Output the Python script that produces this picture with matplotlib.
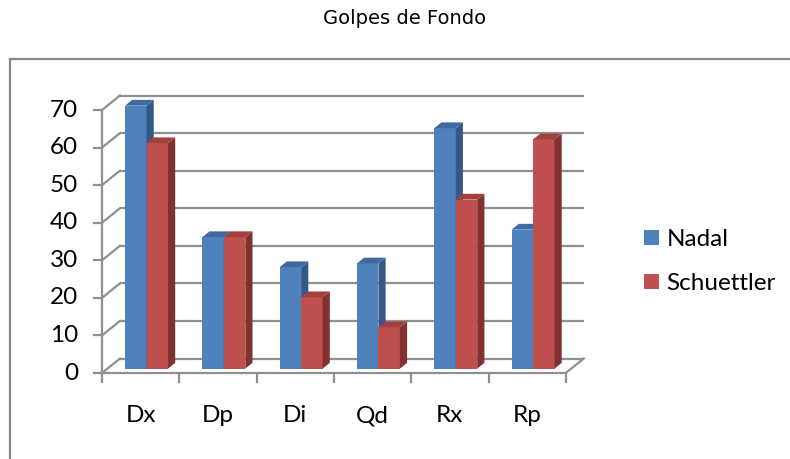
import matplotlib
matplotlib.use("Agg")
import matplotlib.pyplot as plt
from matplotlib.patches import Polygon, Patch
from matplotlib.lines import Line2D

# ---- data ----
categories = ["Dx", "Dp", "Di", "Qd", "Rx", "Rp"]
nadal = [70, 35, 27, 28, 64, 37]
schuettler = [60, 35, 19, 11, 45, 61]
series_names = ["Nadal", "Schuettler"]
y_ticks = [0, 10, 20, 30, 40, 50, 60, 70]
title = "Golpes de Fondo"

# ---- styling / layout ----
W, H = 790, 459
front_colors = ["#4F81BD", "#C0504D"]
side_colors = ["#345888", "#7F322F"]
top_colors = ["#3F6AA0", "#A1403D"]
grid_color = "#909090"
FONT = ["Lato", "DejaVu Sans"]

PX0 = 102.0      # pixel x of front plane at x=-0.5
PXC = 77.3       # pixels per category
PY0 = 373.0      # pixel y (from top) of value 0 on front plane
PYU = 3.757      # pixels per value unit
DXW = 18.0 / PXC   # wall depth offset in category units
DYW = 14.5 / PYU   # wall depth offset in value units
Z0, Z1 = 0.3, 0.7  # bar depth range (fraction of wall depth)
BAR_OFF = 0.228
BAR_W = 0.278

fig = plt.figure(figsize=(W / 100, H / 100), dpi=100)
ax = fig.add_axes([0, 0, 1, 1])
ax.set_xlim((0 - PX0) / PXC - 0.5, (W - PX0) / PXC - 0.5)
ax.set_ylim((PY0 - H) / PYU, PY0 / PYU)
ax.axis("off")

n = len(categories)
xl, xr = -0.5, n - 0.5
lw = 1.6

# back wall gridlines + left wall diagonals
for v in y_ticks:
    ax.plot([xl + DXW, xr + DXW], [v + DYW, v + DYW], color=grid_color, lw=lw, zorder=1,
            solid_capstyle="butt")
    ax.plot([xl, xl + DXW], [v, v + DYW], color=grid_color, lw=lw, zorder=1)
    ax.plot([xl - 8 / PXC, xl], [v, v], color=grid_color, lw=lw, zorder=1)
# floor right edge
ax.plot([xr, xr + DXW], [0, DYW], color=grid_color, lw=lw, zorder=1)
# vertical axis line
ax.plot([xl, xl], [0, y_ticks[-1]], color=grid_color, lw=lw, zorder=1)
# bottom axis line
ax.plot([xl, xr], [0, 0], color=grid_color, lw=lw, zorder=1)
for k in range(n + 1):
    ax.plot([xl + k, xl + k], [0, -9 / PYU], color=grid_color, lw=lw, zorder=1)

# bars
data = [nadal, schuettler]
dz = Z1 - Z0
z = 2
for i in range(n):
    for s in range(2):
        v = data[s][i]
        left = i - 0.5 + Z0 * DXW + BAR_OFF + s * BAR_W
        bottom = Z0 * DYW
        right = left + BAR_W
        ax.bar(left, v, width=BAR_W, bottom=bottom, align="edge",
               color=front_colors[s], lw=0, zorder=z)
        side = Polygon([(right, bottom), (right + dz * DXW, bottom + dz * DYW),
                        (right + dz * DXW, bottom + v + dz * DYW), (right, bottom + v)],
                       closed=True, facecolor=side_colors[s], lw=0, zorder=z)
        ax.add_patch(side)
        top = Polygon([(left, bottom + v), (right, bottom + v),
                       (right + dz * DXW, bottom + v + dz * DYW),
                       (left + dz * DXW, bottom + v + dz * DYW)],
                      closed=True, facecolor=top_colors[s], lw=0, zorder=z)
        ax.add_patch(top)
        z += 1

# y tick labels
for v in y_ticks:
    ax.text(xl - (101 - 77) / PXC, v, str(v), ha="right", va="center",
            fontsize=17.5, family=FONT, color="black")
# category labels
for i, c in enumerate(categories):
    ax.text(i, (PY0 - 415.5) / PYU, c, ha="center", va="center",
            fontsize=17.5, family=FONT, color="black")

# legend
handles = [Patch(facecolor=front_colors[s], edgecolor="none", label=series_names[s])
           for s in range(2)]
fig.legend(handles=handles, loc="center left", bbox_to_anchor=(644 / W, 1 - 261.5 / H),
           bbox_transform=fig.transFigure, frameon=False, borderpad=0, borderaxespad=0,
           handlelength=0.62, handleheight=0.6, handletextpad=0.3, labelspacing=0.95,
           prop={"family": FONT, "size": 17.5})

# title
fig.text(405 / W, 1 - 18 / H, title, ha="center", va="center", fontsize=14,
         family=["DejaVu Sans"], color="black")

# chart border
fig.add_artist(Line2D([10 / W, 10 / W], [0, 1 - 59 / H], transform=fig.transFigure,
                      color="#888888", lw=1.6))
fig.add_artist(Line2D([10 / W, 1], [1 - 59 / H, 1 - 59 / H], transform=fig.transFigure,
                      color="#888888", lw=1.6))

fig.savefig("out.png", dpi=100)
